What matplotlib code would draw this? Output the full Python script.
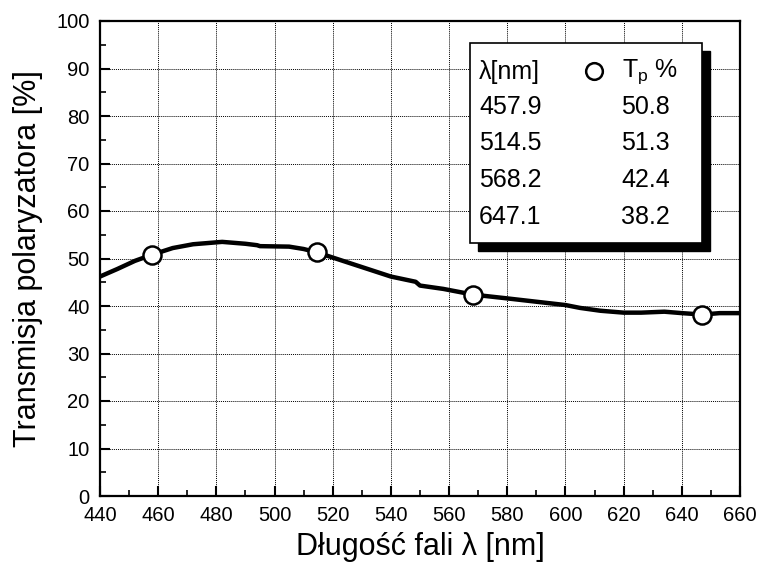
import matplotlib
matplotlib.use("Agg")
import matplotlib.pyplot as plt
from matplotlib.patches import Rectangle
from matplotlib.ticker import MultipleLocator

plt.rcParams['font.family'] = ['Liberation Sans', 'DejaVu Sans']

# curve
curve_wl = [440, 446, 452, 457.9, 465, 472, 482, 490, 494, 495, 505, 510, 514.5,
            520, 530, 540, 548.5, 550, 558, 568.2, 580, 590, 600, 605, 612, 620,
            626, 634, 640, 647.1, 653, 660]
curve_t = [46.2, 47.8, 49.5, 50.8, 52.2, 53.0, 53.5, 53.1, 52.8, 52.6, 52.5, 52.0, 51.3,
           50.2, 48.2, 46.2, 45.1, 44.3, 43.6, 42.4, 41.6, 40.9, 40.2, 39.6, 39.0, 38.6,
           38.6, 38.8, 38.5, 38.2, 38.5, 38.5]

# measured points
meas_wl = [457.9, 514.5, 568.2, 647.1]
meas_tp = [50.8, 51.3, 42.4, 38.2]

fig = plt.figure(figsize=(7.57, 5.63), dpi=100)
ax = fig.add_axes([100/757, 1-496/563, 640/757, 475/563])

ax.plot(curve_wl, curve_t, color='black', lw=3.2, solid_capstyle='butt', zorder=3)
ax.plot(meas_wl, meas_tp, 'o', ms=13, mfc='white', mec='black', mew=1.8, zorder=4)

ax.set_xlim(440, 660)
ax.set_ylim(0, 100)
ax.xaxis.set_major_locator(MultipleLocator(20))
ax.xaxis.set_minor_locator(MultipleLocator(10))
ax.yaxis.set_major_locator(MultipleLocator(10))
ax.yaxis.set_minor_locator(MultipleLocator(5))
ax.tick_params(which='both', direction='in', top=False, right=False, labelsize=14.5)
ax.tick_params(which='major', length=7, width=1.5)
ax.tick_params(which='minor', length=4, width=1.2)
ax.tick_params(axis='x', which='major', pad=7)
ax.tick_params(axis='y', which='major', pad=7.5)
ax.grid(True, which='major', color='black', ls=(0, (1, 1)), lw=0.7)
for s in ax.spines.values():
    s.set_linewidth(1.6)

ax.set_xlabel('Długość fali λ [nm]', fontsize=22)
ax.set_ylabel('Transmisja polaryzatora [%]', fontsize=22)
ax.xaxis.set_label_coords(0.5, (496-532)/475)
ax.yaxis.set_label_coords((43-100)/640, 0.5)

# legend box with shadow
x0, x1 = (470-100)/640, (702-100)/640
y0, y1 = (496-243)/475, (496-43)/475
dx, dy = 8/640, 8/475
ax.add_patch(Rectangle((x0+dx, y0-dy), x1-x0, y1-y0, transform=ax.transAxes,
                       facecolor='black', edgecolor='black', zorder=5, clip_on=False))
ax.add_patch(Rectangle((x0, y0), x1-x0, y1-y0, transform=ax.transAxes,
                       facecolor='white', edgecolor='black', lw=1.2, zorder=6, clip_on=False))

def px(xp, yp):
    return ((xp-100)/640, (496-yp)/475)

fs = 18
ax.text(*px(479, 72), 'λ[nm]', transform=ax.transAxes, fontsize=fs, va='center', ha='left', zorder=7)
ax.plot(*px(594, 71), 'o', transform=ax.transAxes, ms=12, mfc='white', mec='black', mew=1.8,
        zorder=7, clip_on=False)
ax.text(*px(622, 72), r'T$_\mathregular{p}$ %', transform=ax.transAxes, fontsize=fs,
        va='center', ha='left', zorder=7)
row_y = [107, 143.5, 180, 216.5]
for wl, tp, yy in zip(meas_wl, meas_tp, row_y):
    ax.text(*px(479, yy), f'{wl:.1f}', transform=ax.transAxes, fontsize=fs, va='center', ha='left', zorder=7)
    ax.text(*px(621, yy), f'{tp:.1f}', transform=ax.transAxes, fontsize=fs, va='center', ha='left', zorder=7)

fig.savefig('out.png', dpi=100)
